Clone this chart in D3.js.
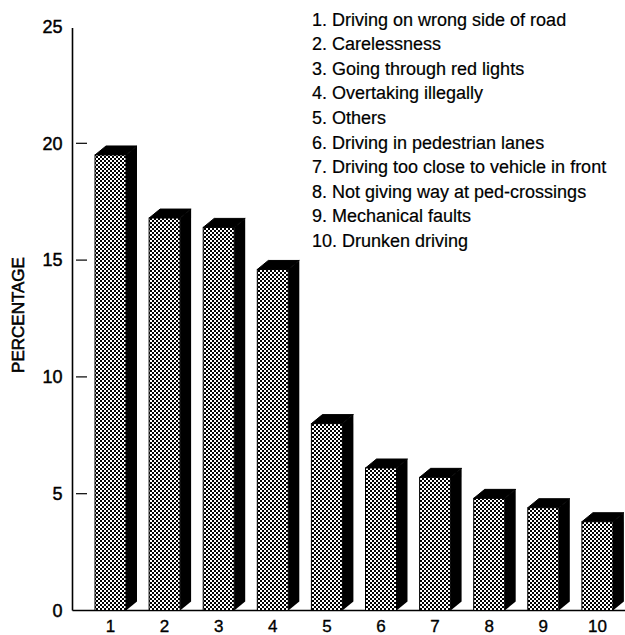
<!DOCTYPE html>
<html>
<head>
<meta charset="utf-8">
<script src="https://cdn.jsdelivr.net/npm/d3@7"></script>
<style>
  html, body { margin: 0; padding: 0; background: #fff; }
  svg { display: block; font-family: "Liberation Sans", Arial, Helvetica, sans-serif; }
</style>
</head>
<body>
<svg id="chart" width="625" height="635"></svg>
<script>
// Causes of road accidents, share of total (%)
const categories = ["1", "2", "3", "4", "5", "6", "7", "8", "9", "10"];
const percentages = [19.5, 16.8, 16.4, 14.6, 8.0, 6.1, 5.7, 4.8, 4.4, 3.8];
const causes = [
  "1. Driving on wrong side of road",
  "2. Carelessness",
  "3. Going through red lights",
  "4. Overtaking illegally",
  "5. Others",
  "6. Driving in pedestrian lanes",
  "7. Driving too close to vehicle in front",
  "8. Not giving way at ped-crossings",
  "9. Mechanical faults",
  "10. Drunken driving"
];
const yTicks = [0, 5, 10, 15, 20, 25];
const yTitle = "PERCENTAGE";

const svg = d3.select("#chart");

const axisX = 72.5;
const baseY = 610.5;
const depthX = 11, depthY = 9;

const y = d3.scaleLinear().domain([0, 25]).range([baseY, 26.5]);
const x = d3.scaleBand()
  .domain(categories)
  .range([67.95, 639.95])
  .paddingInner(0.427)
  .paddingOuter(0.5);

// checkered fill for bar fronts
const defs = svg.append("defs");
const pat = defs.append("pattern")
  .attr("id", "check")
  .attr("patternUnits", "userSpaceOnUse")
  .attr("width", 4).attr("height", 4);
pat.append("rect").attr("width", 4).attr("height", 4).attr("fill", "#fff");
pat.append("rect").attr("x", 0).attr("y", 0).attr("width", 2).attr("height", 2).attr("fill", "#000");
pat.append("rect").attr("x", 2).attr("y", 2).attr("width", 2).attr("height", 2).attr("fill", "#000");

// y axis labels
const yAxis = svg.append("g")
  .attr("transform", `translate(${axisX},0)`)
  .call(d3.axisLeft(y).tickValues(yTicks).tickSize(0).tickPadding(10).tickFormat(d3.format("d")));
yAxis.select(".domain").remove();
yAxis.selectAll("text")
  .attr("font-size", 18)
  .attr("font-family", "'Liberation Sans', Arial, sans-serif")
  .attr("fill", "#000")
  .attr("stroke", "#000").attr("stroke-width", 0.45);

// axis line and inner tick marks
svg.append("line")
  .attr("x1", axisX).attr("x2", axisX)
  .attr("y1", y(25) + 1.5).attr("y2", baseY)
  .attr("stroke", "#000").attr("stroke-width", 1.6);
svg.selectAll(".itick")
  .data(yTicks.filter(t => t > 0 && t < 25))
  .join("line")
  .attr("class", "itick")
  .attr("x1", axisX + 3.5).attr("x2", axisX + 14.5)
  .attr("y1", d => y(d)).attr("y2", d => y(d))
  .attr("stroke", "#000").attr("stroke-width", 1.2);

// baseline
svg.append("line")
  .attr("x1", axisX).attr("x2", 625)
  .attr("y1", baseY).attr("y2", baseY)
  .attr("stroke", "#000").attr("stroke-width", 1.6);

// bars
const bars = svg.append("g").selectAll("g")
  .data(categories.map((c, i) => ({ c, v: percentages[i] })))
  .join("g");

// side face
bars.append("path")
  .attr("d", d => {
    const x1 = x(d.c) + x.bandwidth(), t = y(d.v);
    return `M${x1},${t}L${x1 + depthX},${t - depthY}L${x1 + depthX},${baseY - depthY}L${x1},${baseY}Z`;
  })
  .attr("fill", "#000");

// top face
bars.append("path")
  .attr("d", d => {
    const x0 = x(d.c), x1 = x0 + x.bandwidth(), t = y(d.v);
    return `M${x0},${t}L${x0 + depthX},${t - depthY}L${x1 + depthX},${t - depthY}L${x1},${t}Z`;
  })
  .attr("fill", "#000")
  .attr("stroke", "#000").attr("stroke-width", 1);

// front face
bars.append("rect")
  .attr("x", d => x(d.c))
  .attr("y", d => y(d.v))
  .attr("width", x.bandwidth())
  .attr("height", d => baseY - y(d.v))
  .attr("fill", "url(#check)")
  .attr("stroke", "#000").attr("stroke-width", 1);

// x axis labels
const xAxis = svg.append("g")
  .attr("transform", `translate(0,${baseY})`)
  .call(d3.axisBottom(x).tickSize(0).tickPadding(9.5));
xAxis.select(".domain").remove();
xAxis.selectAll("text")
  .attr("font-size", 17)
  .attr("font-family", "'Liberation Sans', Arial, sans-serif")
  .attr("fill", "#000")
  .attr("stroke", "#000").attr("stroke-width", 0.35);

// y axis title
svg.append("text")
  .attr("transform", "translate(24,315) rotate(-90)")
  .attr("text-anchor", "middle")
  .attr("font-size", 17)
  .attr("fill", "#000")
  .attr("stroke", "#000").attr("stroke-width", 0.55)
  .text(yTitle);

// legend of causes
svg.append("g").selectAll("text")
  .data(causes)
  .join("text")
  .attr("x", 312)
  .attr("y", (d, i) => 25.5 + i * 24.6)
  .attr("font-size", 18)
  .attr("fill", "#000")
  .attr("stroke", "#000").attr("stroke-width", 0.2)
  .text(d => d);
</script>
</body>
</html>
